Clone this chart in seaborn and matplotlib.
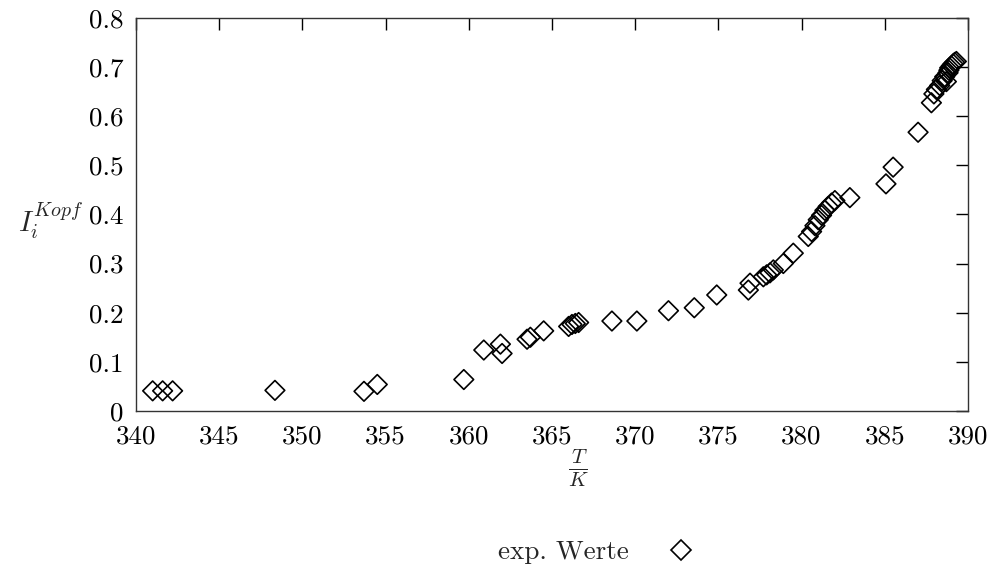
import matplotlib
matplotlib.use("Agg")
import matplotlib.pyplot as plt
import seaborn as sns
import pandas as pd

# temperature T in K
T_values = [341.0, 341.6, 342.2, 348.35, 353.7, 354.5, 359.7, 360.9, 361.9, 362.0,
            363.5, 363.7, 364.5, 366.0, 366.2, 366.4, 366.6, 368.6, 370.1, 372.0,
            373.55, 374.9, 376.8, 376.9, 377.7, 377.9, 378.1, 378.3, 378.9, 379.5,
            380.4, 380.6, 380.8, 381.0, 381.2, 381.4, 381.6, 381.8, 382.0, 382.9,
            385.07, 385.5, 387.0, 387.8, 387.95, 388.1, 388.3, 388.45, 388.6, 388.7,
            388.8, 388.85, 388.9, 389.0, 389.1, 389.2, 389.3]
# I_i^Kopf values
I_values = [0.041, 0.041, 0.041, 0.042, 0.040, 0.054, 0.064, 0.124, 0.136, 0.117,
            0.146, 0.150, 0.163, 0.172, 0.176, 0.178, 0.180, 0.183, 0.183, 0.204,
            0.210, 0.236, 0.246, 0.260, 0.273, 0.277, 0.281, 0.287, 0.300, 0.321,
            0.355, 0.365, 0.377, 0.389, 0.398, 0.408, 0.416, 0.423, 0.428, 0.434,
            0.462, 0.496, 0.567, 0.627, 0.645, 0.654, 0.662, 0.672, 0.680, 0.670,
            0.688, 0.693, 0.698, 0.702, 0.706, 0.709, 0.711]

x_ticks = [340, 345, 350, 355, 360, 365, 370, 375, 380, 385, 390]
y_ticks = [0, 0.1, 0.2, 0.3, 0.4, 0.5, 0.6, 0.7, 0.8]
y_tick_labels = ["0", "0.1", "0.2", "0.3", "0.4", "0.5", "0.6", "0.7", "0.8"]
series_label = "exp. Werte"

df = pd.DataFrame({"T": T_values, "I": I_values})

sns.set_style("white")
plt.rcParams["font.family"] = ["cmr10", "DejaVu Serif"]
plt.rcParams["mathtext.fontset"] = "cm"
plt.rcParams["axes.formatter.use_mathtext"] = True

fig = plt.figure(figsize=(9.93, 5.68), dpi=100)
ax = fig.add_axes([136 / 993, 1 - 411 / 568, (968 - 136) / 993, (411 - 17.7) / 568])

sns.scatterplot(data=df, x="T", y="I", ax=ax, marker="D", s=100,
                facecolors="none", edgecolor="black", linewidth=1.2,
                label=series_label, legend=False)

ax.set_xlim(340, 390)
ax.set_ylim(0, 0.8)
ax.set_xticks(x_ticks)
ax.set_xticklabels([str(t) for t in x_ticks])
ax.set_yticks(y_ticks)
ax.set_yticklabels(y_tick_labels)
ax.tick_params(direction="in", length=8.5, width=1.0, top=True, right=True,
               labelsize=19.5, colors="black")
ax.tick_params(axis="x", pad=10)
ax.tick_params(axis="y", pad=9)
ax.set_xlabel("")
ax.set_ylabel("")
for sp in ax.spines.values():
    sp.set_color("#333333")
    sp.set_linewidth(1.0)

fig.text(578 / 993, 1 - 461 / 568, r"$\frac{T}{K}$", ha="center", va="center_baseline",
         fontsize=21.5)
fig.text(51 / 993, 1 - 221 / 568, r"$I_i^{Kopf}$", ha="center", va="center", fontsize=20.5)

handle = plt.Line2D([], [], marker="D", linestyle="none", markersize=10,
                    markerfacecolor="none", markeredgecolor="black", markeredgewidth=1.2)
fig.legend([handle], [series_label], loc="center", bbox_to_anchor=(603 / 993, 1 - 552 / 568),
           frameon=False, markerfirst=False, fontsize=19.5, handletextpad=0.9,
           borderaxespad=0)

fig.savefig("out.png", dpi=100)
